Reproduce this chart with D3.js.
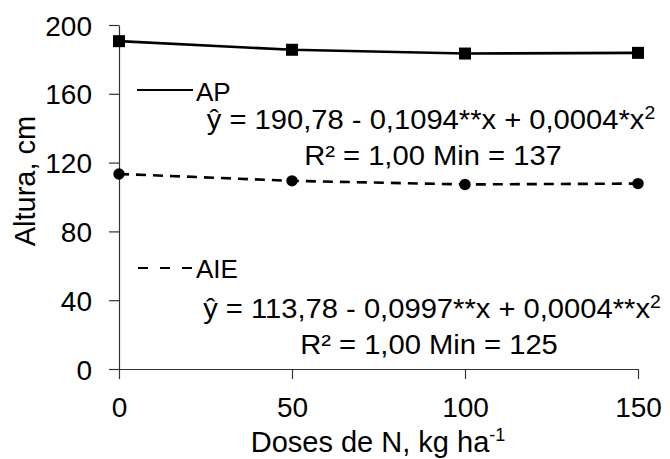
<!DOCTYPE html>
<html>
<head>
<meta charset="utf-8">
<script src="https://cdn.jsdelivr.net/npm/d3@7"></script>
<style>
  html, body { margin: 0; padding: 0; background: #fff; }
  svg { display: block; font-family: "Liberation Sans", Arial, sans-serif; }
</style>
</head>
<body>
<svg id="chart" width="670" height="459"></svg>
<script>
// Doses de N (kg/ha) and measured heights (cm)
const doses = [0, 50, 100, 150];
const apValues = [190.6, 185.6, 183.4, 183.8];   // AP – altura de planta
const aieValues = [113.4, 109.4, 107.3, 107.8];  // AIE – altura de inserção da espiga
const yTicks = [0, 40, 80, 120, 160, 200];
const xTicks = [0, 50, 100, 150];

const svg = d3.select("#chart");

const x = d3.scaleLinear().domain([0, 150]).range([119, 638]);
const y = d3.scaleLinear().domain([0, 200]).range([369, 25]);

const axisColor = "#333";

// Y axis
const gy = svg.append("g").attr("transform", `translate(${x(0)},0)`)
  .call(d3.axisLeft(y).tickValues(yTicks).tickSize(10).tickSizeOuter(0).tickPadding(17));
// X axis
const gx = svg.append("g").attr("transform", `translate(0,${y(0)})`)
  .call(d3.axisBottom(x).tickValues(xTicks).tickSize(10).tickSizeOuter(0).tickPadding(18));

[gx, gy].forEach(g => {
  g.select(".domain").attr("stroke", axisColor).attr("stroke-width", 1.2);
  g.selectAll(".tick line").attr("stroke", axisColor).attr("stroke-width", 1.2);
  g.selectAll(".tick text")
    .attr("fill", "#000")
    .style("font-family", '"Liberation Sans", Arial, sans-serif')
    .style("font-size", "28px");
});
gy.selectAll(".tick text").attr("dy", "0.36em");
gx.selectAll(".tick text").attr("dy", "0.71em");

// Axis titles
svg.append("text")
  .attr("transform", "translate(35,181) rotate(-90)")
  .attr("text-anchor", "middle")
  .style("font-size", "29px")
  .text("Altura, cm");

const xt = svg.append("text")
  .attr("x", 378).attr("y", 452)
  .attr("text-anchor", "middle")
  .style("font-size", "29px");
xt.append("tspan").text("Doses de N, kg ha");
xt.append("tspan").attr("dy", -11).style("font-size", "18px").text("-1");

// Series lines
const line = d3.line().x((d, i) => x(doses[i])).y(d => y(d));

svg.append("path").datum(apValues)
  .attr("d", line).attr("fill", "none")
  .attr("stroke", "#000").attr("stroke-width", 2.6);

svg.append("path").datum(aieValues)
  .attr("d", line).attr("fill", "none")
  .attr("stroke", "#000").attr("stroke-width", 2.6)
  .attr("stroke-dasharray", "10,7");

// Markers
svg.selectAll("rect.ap").data(apValues).enter().append("rect")
  .attr("class", "ap")
  .attr("x", (d, i) => x(doses[i]) - 6).attr("y", d => y(d) - 6)
  .attr("width", 12).attr("height", 12).attr("fill", "#000");

svg.selectAll("circle.aie").data(aieValues).enter().append("circle")
  .attr("class", "aie")
  .attr("cx", (d, i) => x(doses[i])).attr("cy", d => y(d))
  .attr("r", 5.7).attr("fill", "#000");

// Legend entries
svg.append("line").attr("x1", 137).attr("x2", 193).attr("y1", 90).attr("y2", 90)
  .attr("stroke", "#000").attr("stroke-width", 2.2);
svg.append("text").attr("x", 196).attr("y", 101).style("font-size", "26px").text("AP");

svg.append("line").attr("x1", 138).attr("x2", 193).attr("y1", 268).attr("y2", 268)
  .attr("stroke", "#000").attr("stroke-width", 2.2).attr("stroke-dasharray", "10,12");
svg.append("text").attr("x", 196).attr("y", 278).style("font-size", "26px").text("AIE");

// Regression equations
function equation(cx, cy, parts, sx) {
  const g = svg.append("g").attr("transform", `translate(${cx},${cy}) scale(${sx},1)`);
  const t = g.append("text").attr("text-anchor", "middle").style("font-size", "27px");
  parts.forEach(p => {
    const s = t.append("tspan").text(p.t);
    if (p.sup) s.attr("dy", -10).style("font-size", "18px");
  });
}

equation(431, 129, [
  { t: "ŷ = 190,78 - 0,1094**x  + 0,0004*x" }, { t: "2", sup: true }
], 1.08);
equation(433, 165, [{ t: "R² = 1,00 Min = 137" }], 1.08);

equation(432, 318, [
  { t: "ŷ = 113,78 - 0,0997**x  + 0,0004**x" }, { t: "2", sup: true }
], 1.08);
equation(429, 354, [{ t: "R² = 1,00 Min = 125" }], 1.08);
</script>
</body>
</html>
